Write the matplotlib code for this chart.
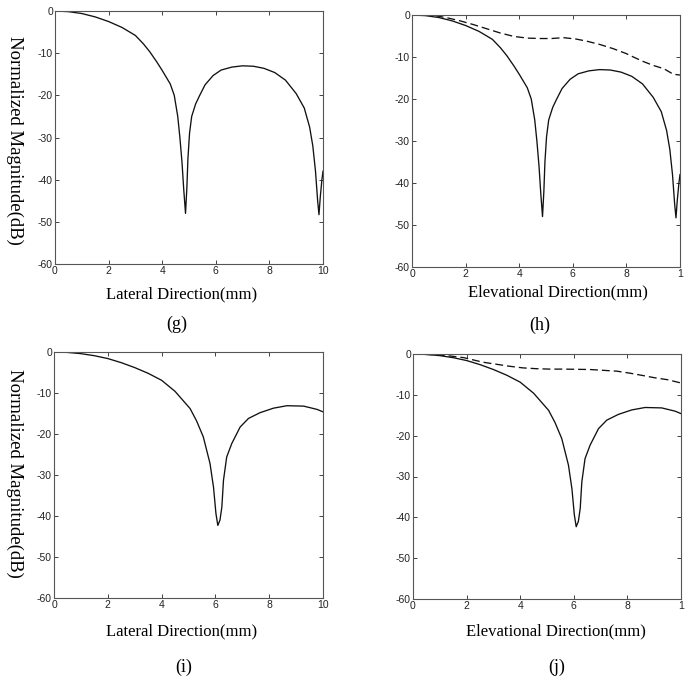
import matplotlib
matplotlib.use("Agg")
import matplotlib.pyplot as plt

# ---------------- data ----------------
# Panels (g) and (h): solid curve
x_gh = [0, 0.5, 1, 1.5, 2, 2.5, 3, 3.3, 3.54, 3.8, 4.0, 4.3, 4.45, 4.58, 4.66, 4.74, 4.8,
        4.87, 4.92, 4.96, 5.02, 5.1, 5.25, 5.4, 5.6, 5.9, 6.2, 6.6, 7.0, 7.4, 7.8, 8.2,
        8.6, 9.0, 9.3, 9.5, 9.62, 9.72, 9.8, 9.85, 9.9, 9.96, 10]
y_gh = [0, -0.15, -0.6, -1.4, -2.5, -3.9, -5.8, -7.8, -9.7, -12.1, -14.1, -17.3, -20, -25,
        -30, -36, -42, -48, -42, -35, -29, -25, -22, -20, -17.5, -15.3, -14.0, -13.3,
        -13.0, -13.1, -13.6, -14.6, -16.4, -19.6, -23.0, -27.5, -32, -38, -45, -48.3,
        -44, -40, -38]

# Panel (h): dashed curve
x_h_dash = [0, 0.7, 1.0, 1.4, 1.8, 2.3, 2.8, 3.3, 3.8, 4.3, 4.8, 5.2, 5.65, 6.1, 6.5, 7.0,
            7.5, 8.0, 8.26, 8.6, 9.0, 9.4, 9.75, 10]
y_h_dash = [0, 0, -0.3, -0.8, -1.4, -2.3, -3.3, -4.3, -5.1, -5.5, -5.6, -5.6, -5.4, -5.7,
            -6.2, -7.0, -8.0, -9.2, -10.0, -11.0, -12.0, -12.8, -14.1, -14.3]

# Panels (i) and (j): solid curve
x_ij = [0, 0.5, 1, 1.5, 2, 2.5, 3, 3.5, 4, 4.5, 5.06, 5.3, 5.55, 5.8, 5.93, 6.02, 6.09,
        6.17, 6.24, 6.3, 6.42, 6.61, 6.92, 7.23, 7.66, 8.16, 8.66, 9.28, 9.78, 10]
y_ij = [0, -0.1, -0.4, -0.9, -1.6, -2.6, -3.8, -5.2, -6.9, -9.6, -13.8, -16.8, -20.7, -27.2,
        -33, -39.4, -42.3, -41, -37.8, -31.3, -25.6, -22.3, -18.3, -16.2, -14.8, -13.7,
        -13.1, -13.2, -14.0, -14.6]

# Panel (j): dashed curve
x_j_dash = [0, 0.9, 1.4, 1.9, 2.6, 3.1, 3.6, 4.1, 4.6, 5.1, 5.6, 6.1, 6.6, 7.1, 7.6, 8.1,
            8.6, 9.0, 9.5, 10]
y_j_dash = [0, -0.2, -0.5, -0.9, -2.0, -2.5, -3.0, -3.4, -3.6, -3.7, -3.7, -3.75, -3.8,
            -4.0, -4.2, -4.7, -5.3, -5.8, -6.3, -7.1]

x_ticks = [0, 2, 4, 6, 8, 10]
x_ticklabels_lat = ["0", "2", "4", "6", "8", "10"]
x_ticklabels_ele = ["0", "2", "4", "6", "8", "1"]
y_ticks = [0, -10, -20, -30, -40, -50, -60]
y_ticklabels = ["0", "-10", "-20", "-30", "-40", "-50", "-60"]

xlabel_lat = "Lateral Direction(mm)"
xlabel_ele = "Elevational Direction(mm)"
ylabel = "Normalized Magnitude(dB)"
panel_tags = ["(g)", "(h)", "(i)", "(j)"]

# ---------------- figure ----------------
W, H = 693, 682
fig = plt.figure(figsize=(W / 100, H / 100), dpi=100)
fig.patch.set_facecolor("white")

serif = ["Liberation Serif", "DejaVu Serif"]
sans = ["Liberation Sans", "DejaVu Sans"]


def px_axes(left, top, right, bottom):
    return fig.add_axes([left / W, 1 - bottom / H, (right - left) / W, (bottom - top) / H])


def style(ax, labels):
    ax.set_xlim(0, 10)
    ax.set_ylim(-60, 0)
    ax.set_xticks(x_ticks)
    ax.set_xticklabels(labels, fontfamily=sans, fontsize=7.5)
    ax.set_yticks(y_ticks)
    ax.set_yticklabels(y_ticklabels, fontfamily=sans, fontsize=7.5)
    ax.tick_params(direction="in", length=3, width=0.6, top=True, right=True,
                   pad=1.5, colors="#222222")
    for s in ax.spines.values():
        s.set_linewidth(0.8)
        s.set_color("#555555")


def ftext(x, y, s, **kw):
    fig.text(x / W, 1 - y / H, s, ha="center", va="center", **kw)


LW = 0.95
ax_g = px_axes(55, 11, 323, 264)
ax_g.plot(x_gh, y_gh, color="#111111", lw=LW)
style(ax_g, x_ticklabels_lat)

ax_h = px_axes(412, 15, 680, 267)
ax_h.plot(x_gh, y_gh, color="#111111", lw=LW)
ax_h.plot(x_h_dash, y_h_dash, color="#111111", lw=LW, dashes=(6, 3))
style(ax_h, x_ticklabels_ele)

ax_i = px_axes(54, 352, 323, 598)
ax_i.plot(x_ij, y_ij, color="#111111", lw=LW)
style(ax_i, x_ticklabels_lat)

ax_j = px_axes(413, 354, 681, 599)
ax_j.plot(x_ij, y_ij, color="#111111", lw=LW)
ax_j.plot(x_j_dash, y_j_dash, color="#111111", lw=LW, dashes=(6, 3))
style(ax_j, x_ticklabels_ele)

# axis labels and panel tags
ftext(182, 294, xlabel_lat, family=serif, fontsize=12)
ftext(558, 292, xlabel_ele, family=serif, fontsize=12)
ftext(182, 631, xlabel_lat, family=serif, fontsize=12)
ftext(556, 631, xlabel_ele, family=serif, fontsize=12)

ftext(177, 324, panel_tags[0], family=serif, fontsize=13)
ftext(540, 325, panel_tags[1], family=serif, fontsize=13)
ftext(184, 667, panel_tags[2], family=serif, fontsize=13)
ftext(557, 667, panel_tags[3], family=serif, fontsize=13)

ftext(15, 140, ylabel, family=serif, fontsize=13.5, rotation=270)
ftext(15, 473, ylabel, family=serif, fontsize=13.5, rotation=270)

fig.savefig("out.png", dpi=100, facecolor="white")
